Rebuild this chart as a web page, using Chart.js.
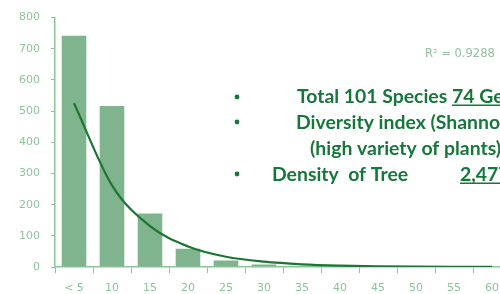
<!DOCTYPE html>
<html>
<head>
<meta charset="utf-8">
<script src="https://cdn.jsdelivr.net/npm/chart.js@4/dist/chart.umd.min.js"></script>
<style>
  html, body { margin: 0; padding: 0; background: #fff; overflow: hidden; }
  #wrap { width: 520px; height: 294px; }
</style>
</head>
<body>
<div id="wrap"><canvas id="treeChart" width="520" height="294"></canvas></div>
<script>
// diameter classes (cm) and number of trees
const classLabels = ["< 5", "10", "15", "20", "25", "30", "35", "40", "45", "50", "55", "60"];
const treeCounts = [745, 520, 175, 62, 24, 11, 5, 3, 2, 1, 1, 1];
// exponential trendline
const trendValues = [525, 262, 131, 66, 33, 17, 8.5, 4.3, 2.2, 1.1, 0.6, 0.3];
const yTicks = [0, 100, 200, 300, 400, 500, 600, 700, 800];

const axisGreen = "#8cc49a";
const darkGreen = "#16773a";

const notes = {
  id: "notes",
  afterDraw(chart) {
    const ctx = chart.ctx;
    ctx.save();
    // R squared
    ctx.fillStyle = "#93c09f";
    ctx.font = "11.5px 'DejaVu Sans'";
    ctx.textBaseline = "middle";
    ctx.fillText("R² = 0.9288", 425, 54);

    ctx.fillStyle = darkGreen;
    ctx.strokeStyle = darkGreen;
    ctx.lineWidth = 1.4;
    ctx.textBaseline = "alphabetic";
    ctx.font = "bold 19.4px Lato";
    const bullet = (y) => {
      ctx.beginPath();
      ctx.arc(237, y, 2.4, 0, Math.PI * 2);
      ctx.fill();
    };
    const under = (txt, x, y) => {
      ctx.fillText(txt, x, y);
      const w = ctx.measureText(txt).width;
      ctx.beginPath();
      ctx.moveTo(x, y + 2.2);
      ctx.lineTo(x + w, y + 2.2);
      ctx.stroke();
    };
    bullet(97);
    ctx.fillText("Total 101 Species", 297, 103);
    under("74 Genera", 452, 103);
    bullet(122);
    ctx.fillText("Diversity index (Shannon", 296, 129);
    ctx.fillText("(high variety of plants)", 310, 155);
    bullet(174);
    ctx.fillText("Density  of Tree", 272, 181);
    under("2,477", 460, 181);
    ctx.restore();
  },
};

var ctx = document.getElementById("treeChart");

var myChart = new Chart(ctx, {
  type: "bar",
  data: {
    labels: classLabels,
    datasets: [
      {
        label: "Trend",
        type: "line",
        data: trendValues,
        borderColor: "#1b7633",
        borderWidth: 2.2,
        pointRadius: 0,
        cubicInterpolationMode: "monotone",
        fill: false,
        order: 0,
      },
      {
        label: "Trees",
        type: "bar",
        data: treeCounts,
        backgroundColor: "#80b48e",
        borderColor: "rgba(255,255,255,0.55)",
        borderWidth: 1,
        categoryPercentage: 1,
        barPercentage: 0.7,
        order: 1,
      },
    ],
  },
  options: {
    responsive: false,
    animation: false,
    layout: {
      padding: { top: 15, right: 9, left: 0, bottom: 0 },
    },
    plugins: {
      legend: { display: false },
      tooltip: { enabled: false },
    },
    scales: {
      x: {
        grid: {
          drawOnChartArea: false,
          tickLength: 6,
          color: axisGreen,
        },
        border: { color: axisGreen, width: 1.5 },
        ticks: {
          color: axisGreen,
          padding: 9,
          maxRotation: 0,
          autoSkip: false,
          font: { family: "DejaVu Sans", size: 11 },
        },
        afterFit(scale) {
          scale.height = 27;
        },
      },
      y: {
        min: 0,
        max: 800,
        afterBuildTicks(scale) {
          scale.ticks = yTicks.map((v) => ({ value: v }));
        },
        grid: {
          drawOnChartArea: false,
          tickLength: 4,
          color: axisGreen,
        },
        border: { color: axisGreen, width: 1.5 },
        ticks: {
          color: axisGreen,
          padding: 11,
          font: { family: "DejaVu Sans", size: 11 },
        },
        afterFit(scale) {
          scale.width = 55;
        },
      },
    },
  },
  plugins: [notes],
});
</script>
</body>
</html>
